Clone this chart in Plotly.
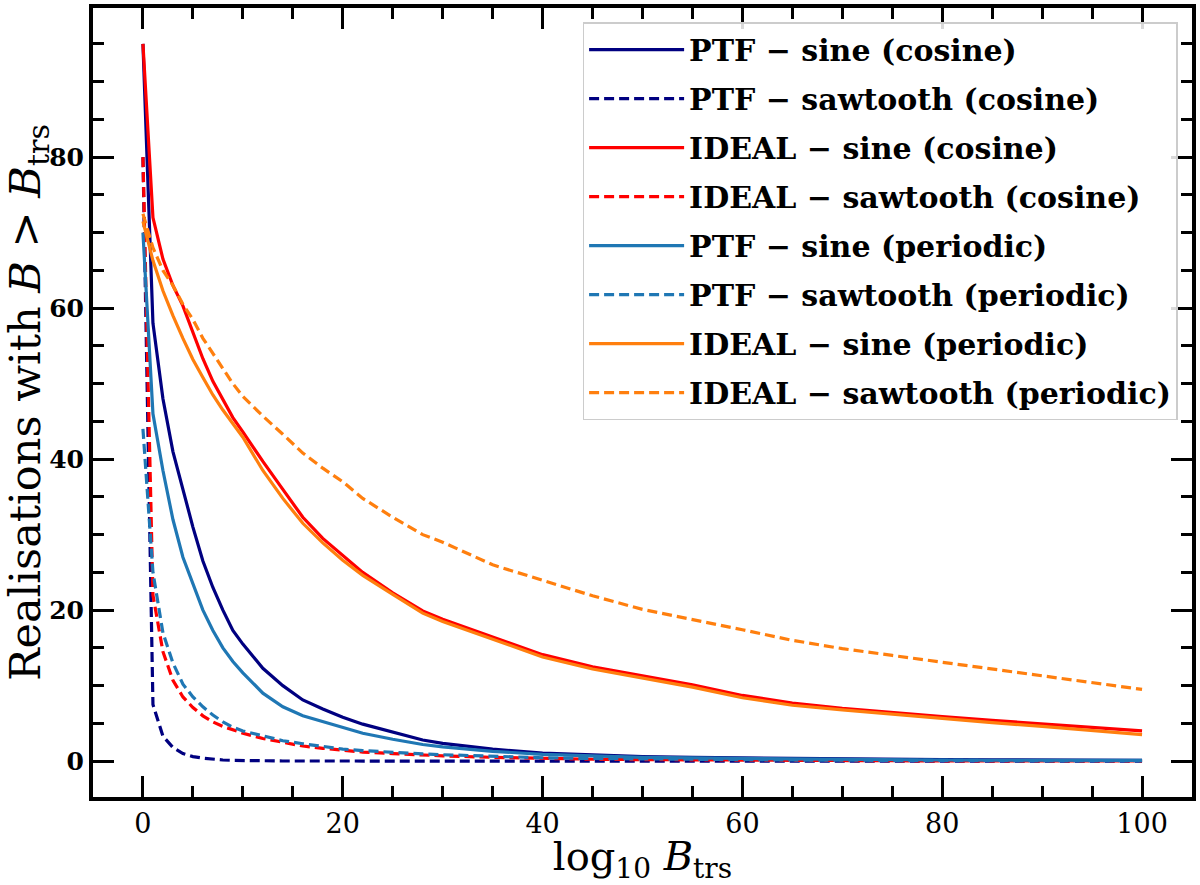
import plotly.graph_objects as go

x = [0, 1, 2, 3, 4, 5, 6, 7, 8, 9, 10, 12, 14, 16, 18, 20, 22, 25, 28, 30,
     35, 40, 45, 50, 55, 60, 65, 70, 75, 80, 85, 90, 95, 100]

ptf_sine_cos = [95, 58, 48, 41, 36, 31, 26.5, 23, 20, 17.3, 15.5, 12.3, 10, 8.1, 6.9, 5.8, 4.9, 3.8, 2.8, 2.35,
                1.6, 1.05, 0.8, 0.6, 0.5, 0.42, 0.35, 0.3, 0.25, 0.2, 0.18, 0.15, 0.12, 0.1]
ptf_saw_cos = [80, 7.5, 3.3, 1.8, 1.0, 0.6, 0.4, 0.25, 0.15, 0.1, 0.07, 0.04, 0.02, 0.02, 0.01, 0.01, 0, 0, 0, 0,
               0, 0, 0, 0, 0, 0, 0, 0, 0, 0, 0, 0, 0, 0]
ideal_sine_cos = [95, 72, 66.5, 63, 60.3, 56.7, 53.3, 50.3, 48, 45.5, 43.6, 39.7, 36, 32.3, 29.5, 27.2, 25, 22.3, 19.9, 18.8,
                  16.4, 14.1, 12.5, 11.3, 10.1, 8.7, 7.7, 7.0, 6.4, 5.9, 5.4, 4.95, 4.5, 4.0]
ideal_saw_cos = [80, 22, 14.5, 10.7, 8.5, 7.1, 6, 5.2, 4.6, 4.1, 3.7, 3.0, 2.5, 2.0, 1.7, 1.4, 1.2, 1.0, 0.8, 0.7,
                 0.5, 0.35, 0.25, 0.2, 0.15, 0.1, 0.08, 0.06, 0.05, 0.04, 0.03, 0.03, 0.02, 0.02]
ptf_sine_per = [70, 46, 38.5, 32, 27, 23.5, 20, 17.3, 15, 13.2, 11.7, 9, 7.2, 6, 5.2, 4.5, 3.7, 2.9, 2.2, 1.9,
                1.3, 0.9, 0.7, 0.5, 0.42, 0.35, 0.3, 0.25, 0.2, 0.15, 0.12, 0.1, 0.1, 0.1]
ptf_saw_per = [44, 25, 17, 13, 10.2, 8.5, 7.2, 6.1, 5.2, 4.5, 4.0, 3.3, 2.7, 2.3, 1.9, 1.6, 1.4, 1.15, 0.95, 0.85,
               0.6, 0.45, 0.35, 0.28, 0.22, 0.18, 0.15, 0.12, 0.1, 0.08, 0.07, 0.06, 0.05, 0.05]
ideal_sine_per = [71.5, 66.3, 62.3, 59, 56, 53.2, 50.8, 48.5, 46.5, 44.7, 42.9, 38.5, 34.8, 31.5, 28.9, 26.6, 24.6, 22.1, 19.6, 18.5,
                  16.1, 13.8, 12.2, 11.0, 9.8, 8.4, 7.4, 6.8, 6.2, 5.6, 5.1, 4.6, 4.1, 3.5]
ideal_saw_per = [72.5, 68, 65, 63, 60.5, 58.5, 56, 54, 52, 50, 48.3, 45.7, 43.3, 40.8, 38.8, 37, 34.8, 32.3, 30, 29,
                 26, 23.9, 21.9, 20.1, 18.8, 17.4, 16, 14.9, 14, 13.1, 12.2, 11.3, 10.4, 9.5]

names = ["PTF − sine (cosine)", "PTF − sawtooth (cosine)",
         "IDEAL − sine (cosine)", "IDEAL − sawtooth (cosine)",
         "PTF − sine (periodic)", "PTF − sawtooth (periodic)",
         "IDEAL − sine (periodic)", "IDEAL − sawtooth (periodic)"]
series = [ptf_sine_cos, ptf_saw_cos, ideal_sine_cos, ideal_saw_cos,
          ptf_sine_per, ptf_saw_per, ideal_sine_per, ideal_saw_per]
colors = ["#000080", "#000080", "#ff0000", "#ff0000",
          "#1f77b4", "#1f77b4", "#ff7f0e", "#ff7f0e"]
dashes = ["solid", "10px,5px", "solid", "10px,5px", "solid", "10px,5px", "solid", "10px,5px"]

fig = go.Figure()
for i, (nm, ys, c, d) in enumerate(zip(names, series, colors, dashes)):
    fig.add_trace(go.Scatter(x=x, y=ys, mode="lines", name=nm, legendgroup=f"g{i}",
                             line=dict(color=c, width=3.2, dash=d)))

axis_common = dict(showline=True, linewidth=4, linecolor="black", mirror="allticks",
                   ticks="inside", ticklen=21, tickwidth=3, tickcolor="black",
                   showgrid=False, zeroline=False,
                   minor=dict(ticks="inside", ticklen=11, tickwidth=2.5, tickcolor="black", dtick=5, showgrid=False))

fig.update_xaxes(range=[-5, 105], tick0=0, dtick=20,
                 tickfont=dict(family="DejaVu Serif", size=27, color="black"),
                 title=dict(text="log<sub>10</sub> <i>B</i><sub>trs</sub>",
                            font=dict(family="DejaVu Serif", size=40, color="black"), standoff=4),
                 **axis_common)
fig.update_yaxes(range=[-4.75, 99.75], tick0=0, dtick=20,
                 tickfont=dict(family="DejaVu Serif", size=25, color="black", weight="bold"),
                 title=dict(text="Realisations with <i>B</i> > <i>B</i><sub>trs</sub>",
                            font=dict(family="DejaVu Serif", size=43, color="black"), standoff=0),
                 **axis_common)

fig.update_layout(
    width=1200, height=885,
    margin=dict(l=93, r=7, t=4, b=88),
    plot_bgcolor="white", paper_bgcolor="white",
    legend=dict(x=0.4455, y=0.982, xanchor="left", yanchor="top",
                bgcolor="rgba(255,255,255,0.85)", bordercolor="#cccccc", borderwidth=1.5,
                font=dict(family="DejaVu Serif", size=30, color="black", weight="bold"),
                tracegroupgap=7, itemwidth=95),
    showlegend=True,
)

fig.write_html("out.html")
